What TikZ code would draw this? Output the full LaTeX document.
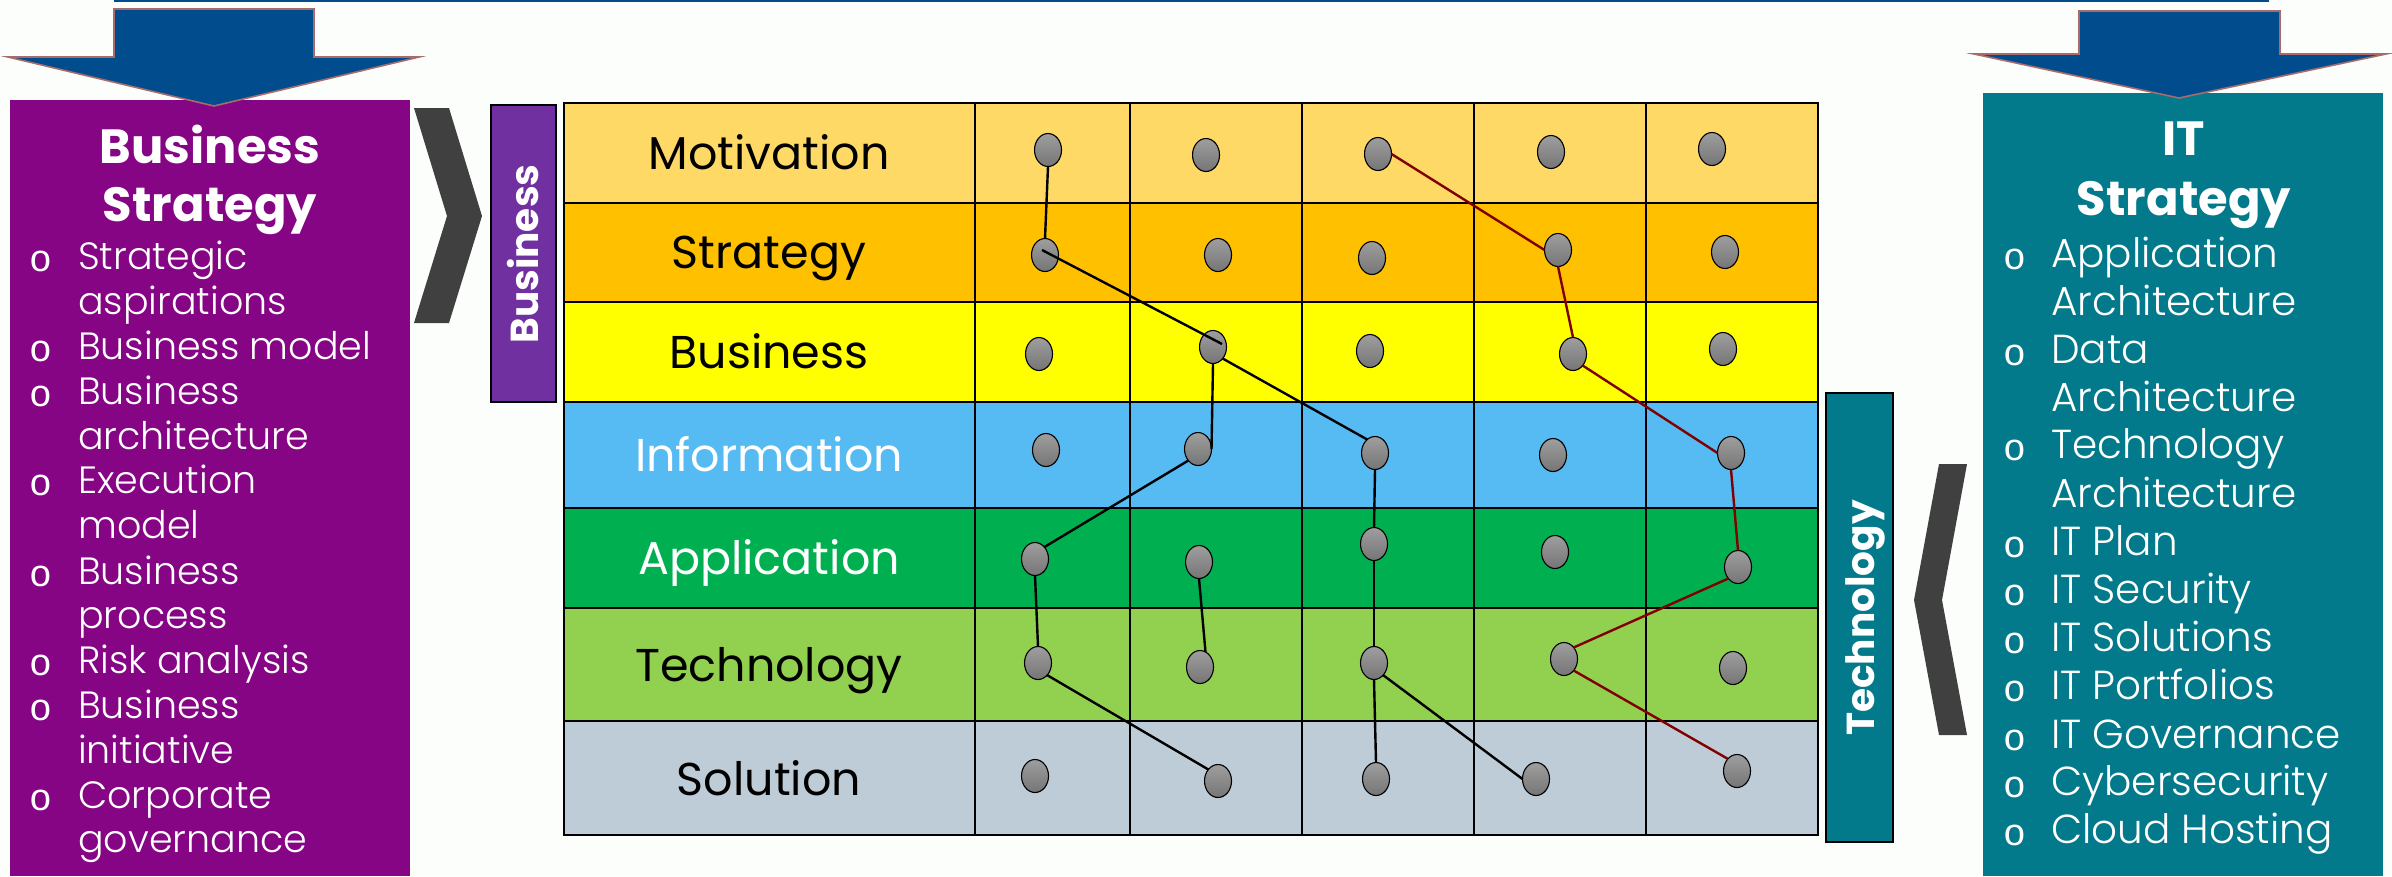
\documentclass[tikz,border=0pt]{standalone}
\usepackage{fontspec}
\setmainfont{Poppins}
\newfontfamily\lightfont{Poppins Light}
\newfontfamily\bulletfont{Liberation Mono}
\usetikzlibrary{shapes.geometric}

\definecolor{sheet}{HTML}{FBFEFA}
\definecolor{arrowblue}{HTML}{004C8C}
\definecolor{arrowrim}{HTML}{A66B6B}
\definecolor{bizpurple}{HTML}{860584}
\definecolor{barpurple}{HTML}{7030A0}
\definecolor{itteal}{HTML}{037A8B}
\definecolor{chevron}{HTML}{404040}
\definecolor{rowmotiv}{HTML}{FFD966}
\definecolor{rowstrat}{HTML}{FFC000}
\definecolor{rowbiz}{HTML}{FFFF00}
\definecolor{rowinfo}{HTML}{56BBF2}
\definecolor{rowapp}{HTML}{00B050}
\definecolor{rowtech}{HTML}{92D050}
\definecolor{rowsol}{HTML}{BDCCD6}

\tikzset{
  bigarrow/.style={fill=arrowblue,draw=arrowrim,line width=1.6pt,line join=miter},
  rowcell/.style={draw=black,line width=2.4pt},
  gridline/.style={draw=black,line width=2.4pt},
  rowname/.style={anchor=base,yshift=-1.5pt,font=\fontsize{46}{46}\selectfont,inner sep=0pt},
  title/.style={anchor=base,text=white,font=\fontsize{48}{48}\selectfont\bfseries,inner sep=0pt},
  listitem/.style={anchor=base west,yshift=-1.5pt,text=white,font=\fontsize{38}{38}\selectfont\lightfont,inner sep=0pt},
  ititem/.style={listitem,font=\fontsize{40.5}{40.5}\selectfont\lightfont},
  bullet/.style={anchor=base,yshift=-3pt,xshift=1pt,text=white,font=\fontsize{38}{38}\selectfont\bulletfont,inner sep=0pt},
  sidebar/.style={draw=black,line width=1.6pt},
  sidename/.style={anchor=base,rotate=90,text=white,font=\fontsize{39}{39}\selectfont\bfseries,inner sep=0pt},
  dot/.style={ellipse,draw=black,line width=1.1pt,minimum width=27pt,minimum height=33pt,
              inner sep=0pt,outer sep=0pt,top color=black!38,bottom color=black!54},
  blackline/.style={draw=black,line width=2.4pt},
  redline/.style={draw=black!50!red,line width=2.4pt},
}

\begin{document}
\begin{tikzpicture}[x=1pt,y=-1pt]
\useasboundingbox (0,0) rectangle (2392,876);
\fill [sheet] (0,0) rectangle (2392,876);

% top rule
\fill [arrowblue] (114,0) rectangle (2269,2);

% left panel
\fill [bizpurple] (10,100) rectangle (410,876);
\draw [bigarrow] (114,9)--(314,9)--(314,57)--(419,57)--(214,106)--(8,57)--(114,57)--cycle;
\node [title] (bstitlea) at (210,163) {Business};
\node [title] (bstitleb) at (210,221) {Strategy};

\node [bullet] (bsoa) at (40,268) {o};
\node [listitem] (bsa) at (78,268) {Strategic};
\node [listitem] (bsaa) at (78,313) {aspirations};
\node [bullet] (bsob) at (40,358) {o};
\node [listitem] (bsb) at (78,358) {Business model};
\node [bullet] (bsoc) at (40,403) {o};
\node [listitem] (bsc) at (78,403) {Business};
\node [listitem] (bscc) at (78,448) {architecture};
\node [bullet] (bsod) at (40,492) {o};
\node [listitem] (bsd) at (78,492) {Execution};
\node [listitem] (bsdd) at (78,537) {model};
\node [bullet] (bsoe) at (40,583) {o};
\node [listitem] (bse) at (78,583) {Business};
\node [listitem] (bsee) at (78,627) {process};
\node [bullet] (bsof) at (40,672) {o};
\node [listitem] (bsf) at (78,672) {Risk analysis};
\node [bullet] (bsog) at (40,717) {o};
\node [listitem] (bsg) at (78,717) {Business};
\node [listitem] (bsgg) at (78,762) {initiative};
\node [bullet] (bsoh) at (40,807) {o};
\node [listitem] (bsh) at (78,807) {Corporate};
\node [listitem] (bshh) at (78,851) {governance};

% chevrons
\fill [chevron] (414,108)--(449,108)--(482,216)--(449,323)--(414,323)--(447,216)--cycle;
\fill [chevron] (1939,464)--(1967,464)--(1942,600)--(1967,735)--(1939,735)--(1914,600)--cycle;

% side bars
\draw [sidebar,fill=barpurple] (491,105) rectangle (556,402);
\node [sidename] (bizbar) at (538,254) {Business};
\draw [sidebar,fill=itteal] (1826,393) rectangle (1893,842);
\node [sidename] (techbar) at (1874,618) {Technology};

% rows of the table
\draw [rowcell,fill=rowmotiv] (564,103) rectangle (1818,203);
\draw [rowcell,fill=rowstrat] (564,203) rectangle (1818,302);
\draw [rowcell,fill=rowbiz] (564,302) rectangle (1818,402);
\draw [rowcell,fill=rowinfo] (564,402) rectangle (1818,508);
\draw [rowcell,fill=rowapp] (564,508) rectangle (1818,608);
\draw [rowcell,fill=rowtech] (564,608) rectangle (1818,721);
\draw [rowcell,fill=rowsol] (564,721) rectangle (1818,835);

% columns of the table
\draw [gridline] (975,103)--(975,835);
\draw [gridline] (1130,103)--(1130,835);
\draw [gridline] (1302,103)--(1302,835);
\draw [gridline] (1474,103)--(1474,835);
\draw [gridline] (1646,103)--(1646,835);

\node [rowname] (motivation) at (769,168) {Motivation};
\node [rowname] (strategy) at (769,267) {Strategy};
\node [rowname] (business) at (769,367) {Business};
\node [rowname,text=white] (information) at (769,470) {Information};
\node [rowname,text=white] (application) at (769,573) {Application};
\node [rowname] (technology) at (769,680) {Technology};
\node [rowname] (solution) at (769,794) {Solution};

% points, row by row
\node [dot] (m1) at (1048,150) {};
\node [dot] (m2) at (1206,155) {};
\node [dot] (m3) at (1378,154) {};
\node [dot] (m4) at (1551,152) {};
\node [dot] (m5) at (1712,149) {};

\node [dot] (s1) at (1045,255) {};
\node [dot] (s2) at (1218,255) {};
\node [dot] (s3) at (1372,258) {};
\node [dot] (s4) at (1558,250) {};
\node [dot] (s5) at (1725,252) {};

\node [dot] (b1) at (1039,354) {};
\node [dot] (b2) at (1213,347) {};
\node [dot] (b3) at (1370,351) {};
\node [dot] (b4) at (1573,354) {};
\node [dot] (b5) at (1723,349) {};

\node [dot] (i1) at (1046,450) {};
\node [dot] (i2) at (1198,449) {};
\node [dot] (i3) at (1375,453) {};
\node [dot] (i4) at (1553,455) {};
\node [dot] (i5) at (1731,453) {};

\node [dot] (a1) at (1035,559) {};
\node [dot] (a2) at (1199,562) {};
\node [dot] (a3) at (1374,544) {};
\node [dot] (a4) at (1555,552) {};
\node [dot] (a5) at (1738,567) {};

\node [dot] (t1) at (1038,663) {};
\node [dot] (t2) at (1200,667) {};
\node [dot] (t3) at (1374,663) {};
\node [dot] (t4) at (1564,659) {};
\node [dot] (t5) at (1733,668) {};

\node [dot] (z1) at (1035,776) {};
\node [dot] (z2) at (1218,781) {};
\node [dot] (z3) at (1376,779) {};
\node [dot] (z4) at (1536,779) {};
\node [dot] (z5) at (1737,771) {};

% black paths
\coordinate (s1in) at (1042,250);
\coordinate (b2in) at (1222,344);
\draw [blackline] (m1.south)--(s1.north);
\draw [blackline] (s1in)--(b2in);
\draw [blackline] (b2.-50)--(i3.120);
\draw [blackline] (b2.south)--(i2.east);
\draw [blackline] (i2.230)--(a1.52);
\draw [blackline] (a1.south)--(t1.north);
\draw [blackline] (t1.-53)--(z2.130);
\draw [blackline] (a2.south)--(t2.70);
\draw [blackline] (i3.south)--(a3.north);
\draw [blackline] (a3.south)--(t3.north);
\draw [blackline] (t3.south)--(z3.north);
\draw [blackline] (t3.-53)--(z4.west);

% red path
\draw [redline] (m3.east)--(s4.west);
\draw [redline] (s4.south)--(b4.north);
\draw [redline] (b4.-50)--(i5.west);
\draw [redline] (i5.south)--(a5.north);
\draw [redline] (a5.230)--(t4.50);
\draw [redline] (t4.-50)--(z5.127);

% right panel
\fill [itteal] (1983,93) rectangle (2383,876);
\draw [bigarrow] (2079,11)--(2280,11)--(2280,54)--(2386,54)--(2179,98)--(1974,54)--(2079,54)--cycle;
\node [title] (ittitlea) at (2184,155) {IT};
\node [title] (ittitleb) at (2184,215) {Strategy};

\node [bullet] (itoa) at (2014,266) {o};
\node [ititem] (ita) at (2051,266) {Application};
\node [ititem] (itaa) at (2051,314) {Architecture};
\node [bullet] (itob) at (2014,362) {o};
\node [ititem] (itb) at (2051,362) {Data};
\node [ititem] (itbb) at (2051,410) {Architecture};
\node [bullet] (itoc) at (2014,457) {o};
\node [ititem] (itc) at (2051,457) {Technology};
\node [ititem] (itcc) at (2051,506) {Architecture};
\node [bullet] (itod) at (2014,554) {o};
\node [ititem] (itd) at (2051,554) {IT Plan};
\node [bullet] (itoe) at (2014,602) {o};
\node [ititem] (ite) at (2051,602) {IT Security};
\node [bullet] (itof) at (2014,650) {o};
\node [ititem] (itf) at (2051,650) {IT Solutions};
\node [bullet] (itog) at (2014,698) {o};
\node [ititem] (itg) at (2051,698) {IT Portfolios};
\node [bullet] (itoh) at (2014,747) {o};
\node [ititem] (ith) at (2051,747) {IT Governance};
\node [bullet] (itoi) at (2014,794) {o};
\node [ititem] (iti) at (2051,794) {Cybersecurity};
\node [bullet] (itoj) at (2014,842) {o};
\node [ititem] (itj) at (2051,842) {Cloud Hosting};

\end{tikzpicture}
\end{document}
